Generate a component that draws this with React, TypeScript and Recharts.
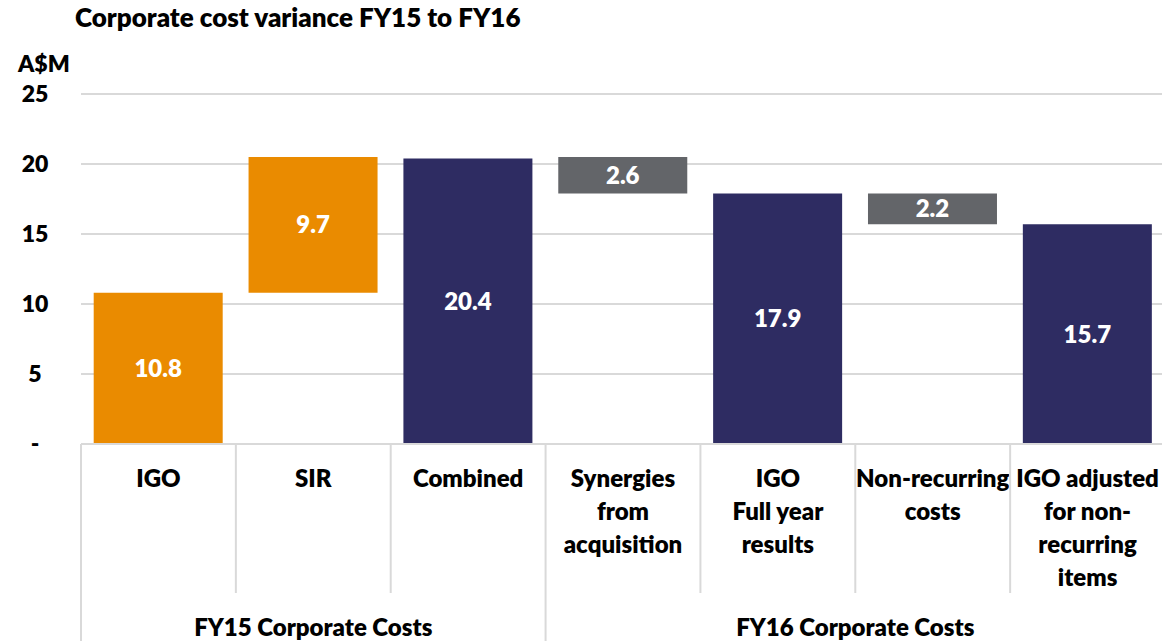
import React from "react";
import { Bar, BarChart, CartesianGrid, Cell, LabelList, XAxis, YAxis } from "recharts";

const categories = [
  "IGO",
  "SIR",
  "Combined",
  "Synergies\nfrom\nacquisition",
  "IGO\nFull year\nresults",
  "Non-recurring\ncosts",
  "IGO adjusted\nfor non-\nrecurring\nitems",
];
// invisible offset under the floating bars
const baseValues = [0, 10.8, 0, 17.9, 0, 15.7, 0];
const barValues = [10.8, 9.7, 20.4, 2.6, 17.9, 2.2, 15.7];
const barKinds = ["fy15", "fy15", "total", "change", "total", "change", "total"];
const groups = [
  { label: "FY15 Corporate Costs", from: 0, to: 2 },
  { label: "FY16 Corporate Costs", from: 3, to: 6 },
];
const yTicks = [0, 5, 10, 15, 20, 25];

const KIND_COLORS: Record<string, string> = {
  fy15: "#EA8B00",
  total: "#2E2C62",
  change: "#636569",
};

const FONT = "Lato, 'Open Sans', sans-serif";
const WEIGHT = 800;
const WIDTH = 1162;
const HEIGHT = 641;
// plot runs slightly past the right edge, like the original slide
const CHART_WIDTH = 1165;
const PLOT_LEFT = 81;
const BAND = (CHART_WIDTH - PLOT_LEFT) / categories.length;

const data = categories.map((name, i) => ({
  name,
  base: baseValues[i],
  value: barValues[i],
  kind: barKinds[i],
}));

const CategoryTick = (props: any) => {
  const { x, y, payload } = props;
  const idx = payload.index;
  const lines = String(payload.value).split("\n");
  const groupStart = groups.find((g) => g.from === idx);
  const left = x - BAND / 2;
  return (
    <g>
      <line x1={left} x2={left} y1={y} y2={groupStart ? HEIGHT : y + 149} stroke="#D9D9D9" strokeWidth={2} />
      {lines.map((ln, i) => (
        <text
          key={i}
          x={x}
          y={y + 43 + i * 33}
          textAnchor="middle"
          fontFamily={FONT}
          fontWeight={WEIGHT}
          fontSize={24}
          fill="#000"
        >
          {ln}
        </text>
      ))}
      {groupStart && (
        <text
          x={x + ((groupStart.to - groupStart.from) / 2) * BAND}
          y={y + 192}
          textAnchor="middle"
          fontFamily={FONT}
          fontWeight={WEIGHT}
          fontSize={24}
          fill="#000"
        >
          {groupStart.label}
        </text>
      )}
    </g>
  );
};

const ValueTick = (props: any) => {
  const { y, payload } = props;
  return (
    <text x={35} y={y + 8} textAnchor="middle" fontFamily={FONT} fontWeight={WEIGHT} fontSize={23} fill="#000">
      {payload.value === 0 ? "-" : payload.value}
    </text>
  );
};

const App: React.FC = () => {
  return (
    <div
      style={{
        position: "absolute",
        left: 0,
        top: 0,
        width: WIDTH,
        height: HEIGHT,
        background: "#fff",
        overflow: "hidden",
      }}
    >
      <div
        style={{
          position: "absolute",
          left: 75,
          top: 1,
          fontFamily: FONT,
          fontWeight: WEIGHT,
          fontSize: 26,
          color: "#000",
          whiteSpace: "nowrap",
        }}
      >
        Corporate cost variance FY15 to FY16
      </div>
      <div
        style={{
          position: "absolute",
          left: 18,
          top: 49,
          fontFamily: FONT,
          fontWeight: WEIGHT,
          fontSize: 23,
          color: "#000",
        }}
      >
        A$M
      </div>
      <BarChart
        width={CHART_WIDTH}
        height={HEIGHT}
        data={data}
        margin={{ top: 94, right: 0, bottom: 0, left: 0 }}
        barCategoryGap="8.2%"
      >
        <CartesianGrid horizontal vertical={false} stroke="#D9D9D9" strokeWidth={2} />
        <XAxis
          dataKey="name"
          interval={0}
          height={197}
          tick={<CategoryTick />}
          tickLine={false}
          tickSize={0}
          tickMargin={0}
          axisLine={{ stroke: "#D9D9D9", strokeWidth: 2 }}
        />
        <YAxis
          width={PLOT_LEFT}
          domain={[0, 25]}
          ticks={yTicks}
          tick={<ValueTick />}
          axisLine={false}
          tickLine={false}
        />
        <Bar dataKey="base" stackId="w" fill="transparent" isAnimationActive={false} />
        <Bar dataKey="value" stackId="w" isAnimationActive={false}>
          {data.map((d, i) => (
            <Cell key={`cell-${i}`} fill={KIND_COLORS[d.kind]} />
          ))}
          <LabelList
            dataKey="value"
            position="center"
            formatter={(v: any) => Number(v).toFixed(1)}
            fill="#fff"
            fontFamily={FONT}
            fontWeight={WEIGHT}
            fontSize={24}
          />
        </Bar>
      </BarChart>
    </div>
  );
};

export default App;
